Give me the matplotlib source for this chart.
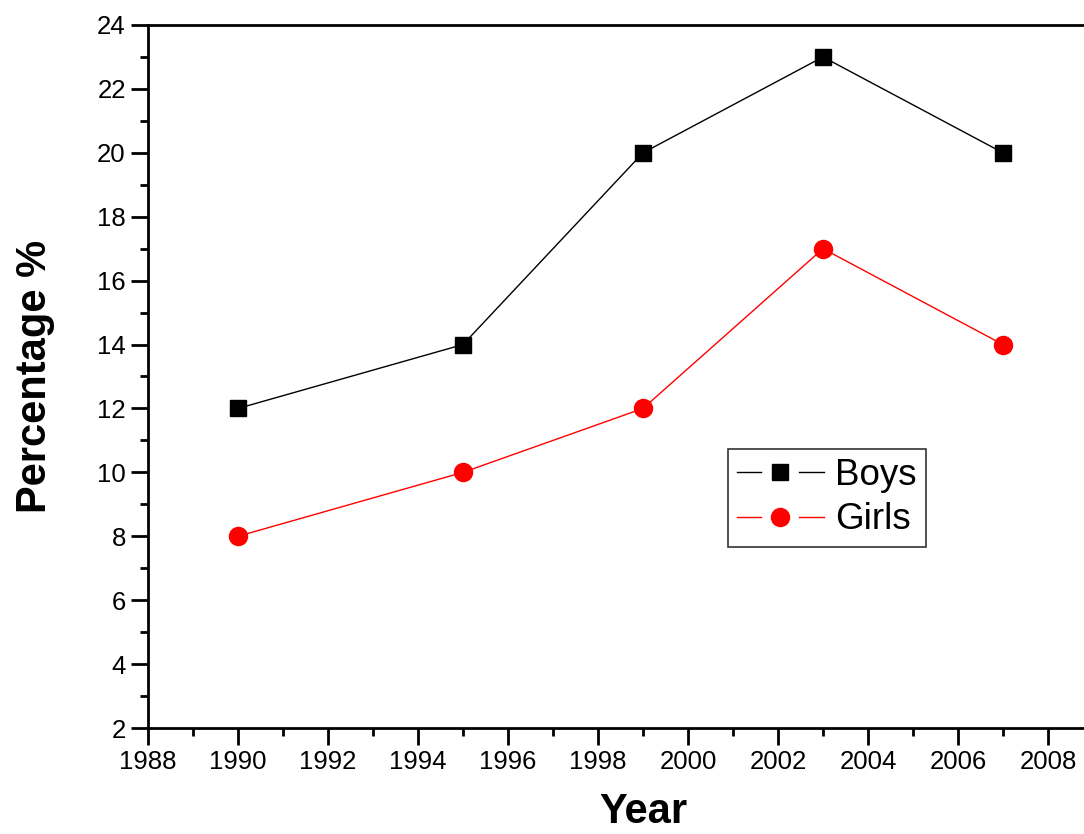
import matplotlib
matplotlib.use("Agg")
import matplotlib.pyplot as plt
from matplotlib.ticker import MultipleLocator, FixedLocator
from matplotlib.legend_handler import HandlerBase
from matplotlib.lines import Line2D

years = [1990, 1995, 1999, 2003, 2007]
boys = [12, 14, 20, 23, 20]
girls = [8, 10, 12, 17, 14]
x_major = list(range(1988, 2009, 2))
x_minor = list(range(1989, 2010, 2))

plt.rcParams['font.family'] = ['Liberation Sans', 'DejaVu Sans']


class GapLineHandler(HandlerBase):
    def create_artists(self, legend, orig, xdescent, ydescent, width, height, fontsize, trans):
        y = height / 2 - ydescent
        x0 = -xdescent
        x1 = x0 + width
        xm = (x0 + x1) / 2
        gap = width * 0.22
        c = orig.get_color()
        lw = orig.get_linewidth()
        l1 = Line2D([x0, xm - gap], [y, y], color=c, lw=lw)
        l2 = Line2D([xm + gap, x1], [y, y], color=c, lw=lw)
        m = Line2D([xm], [y], color=c, marker=orig.get_marker(),
                   ms=orig.get_markersize(), ls='none')
        arts = [l1, l2, m]
        for a in arts:
            a.set_transform(trans)
        return arts


fig = plt.figure(figsize=(10.84, 8.34), dpi=100)
ax = fig.add_axes([148/1084, 106/834, 990/1084, 703/834])

lb, = ax.plot(years, boys, color='black', lw=1, marker='s', ms=11, label='Boys', clip_on=False)
lg, = ax.plot(years, girls, color='red', lw=1, marker='o', ms=13, label='Girls', clip_on=False)

ax.set_xlim(1988, 2010)
ax.set_ylim(2, 24)
ax.xaxis.set_major_locator(FixedLocator(x_major))
ax.xaxis.set_minor_locator(FixedLocator(x_minor))
ax.yaxis.set_major_locator(MultipleLocator(2))
ax.yaxis.set_minor_locator(MultipleLocator(1))
ax.tick_params(which='both', direction='out', width=2, labelsize=18.5, top=False, right=False)
ax.tick_params(which='major', length=12, pad=4)
ax.tick_params(which='minor', length=6)
for s in ax.spines.values():
    s.set_linewidth(2)
ax.spines['right'].set_visible(False)

ax.set_xlabel('Year', fontsize=30, fontweight='bold', labelpad=13)
ax.set_ylabel('Percentage %', fontsize=30, fontweight='bold', labelpad=30)

leg = ax.legend(handles=[lb, lg], loc='upper left',
                bbox_to_anchor=(580/990, (728-449)/703), fontsize=26.5,
                handler_map={Line2D: GapLineHandler()},
                handlelength=2.35, frameon=True, fancybox=False,
                edgecolor='black', borderpad=0.25, labelspacing=0.25, handletextpad=0.3,
                borderaxespad=0)
leg.get_frame().set_linewidth(1.2)

fig.savefig('out.png', dpi=100)
